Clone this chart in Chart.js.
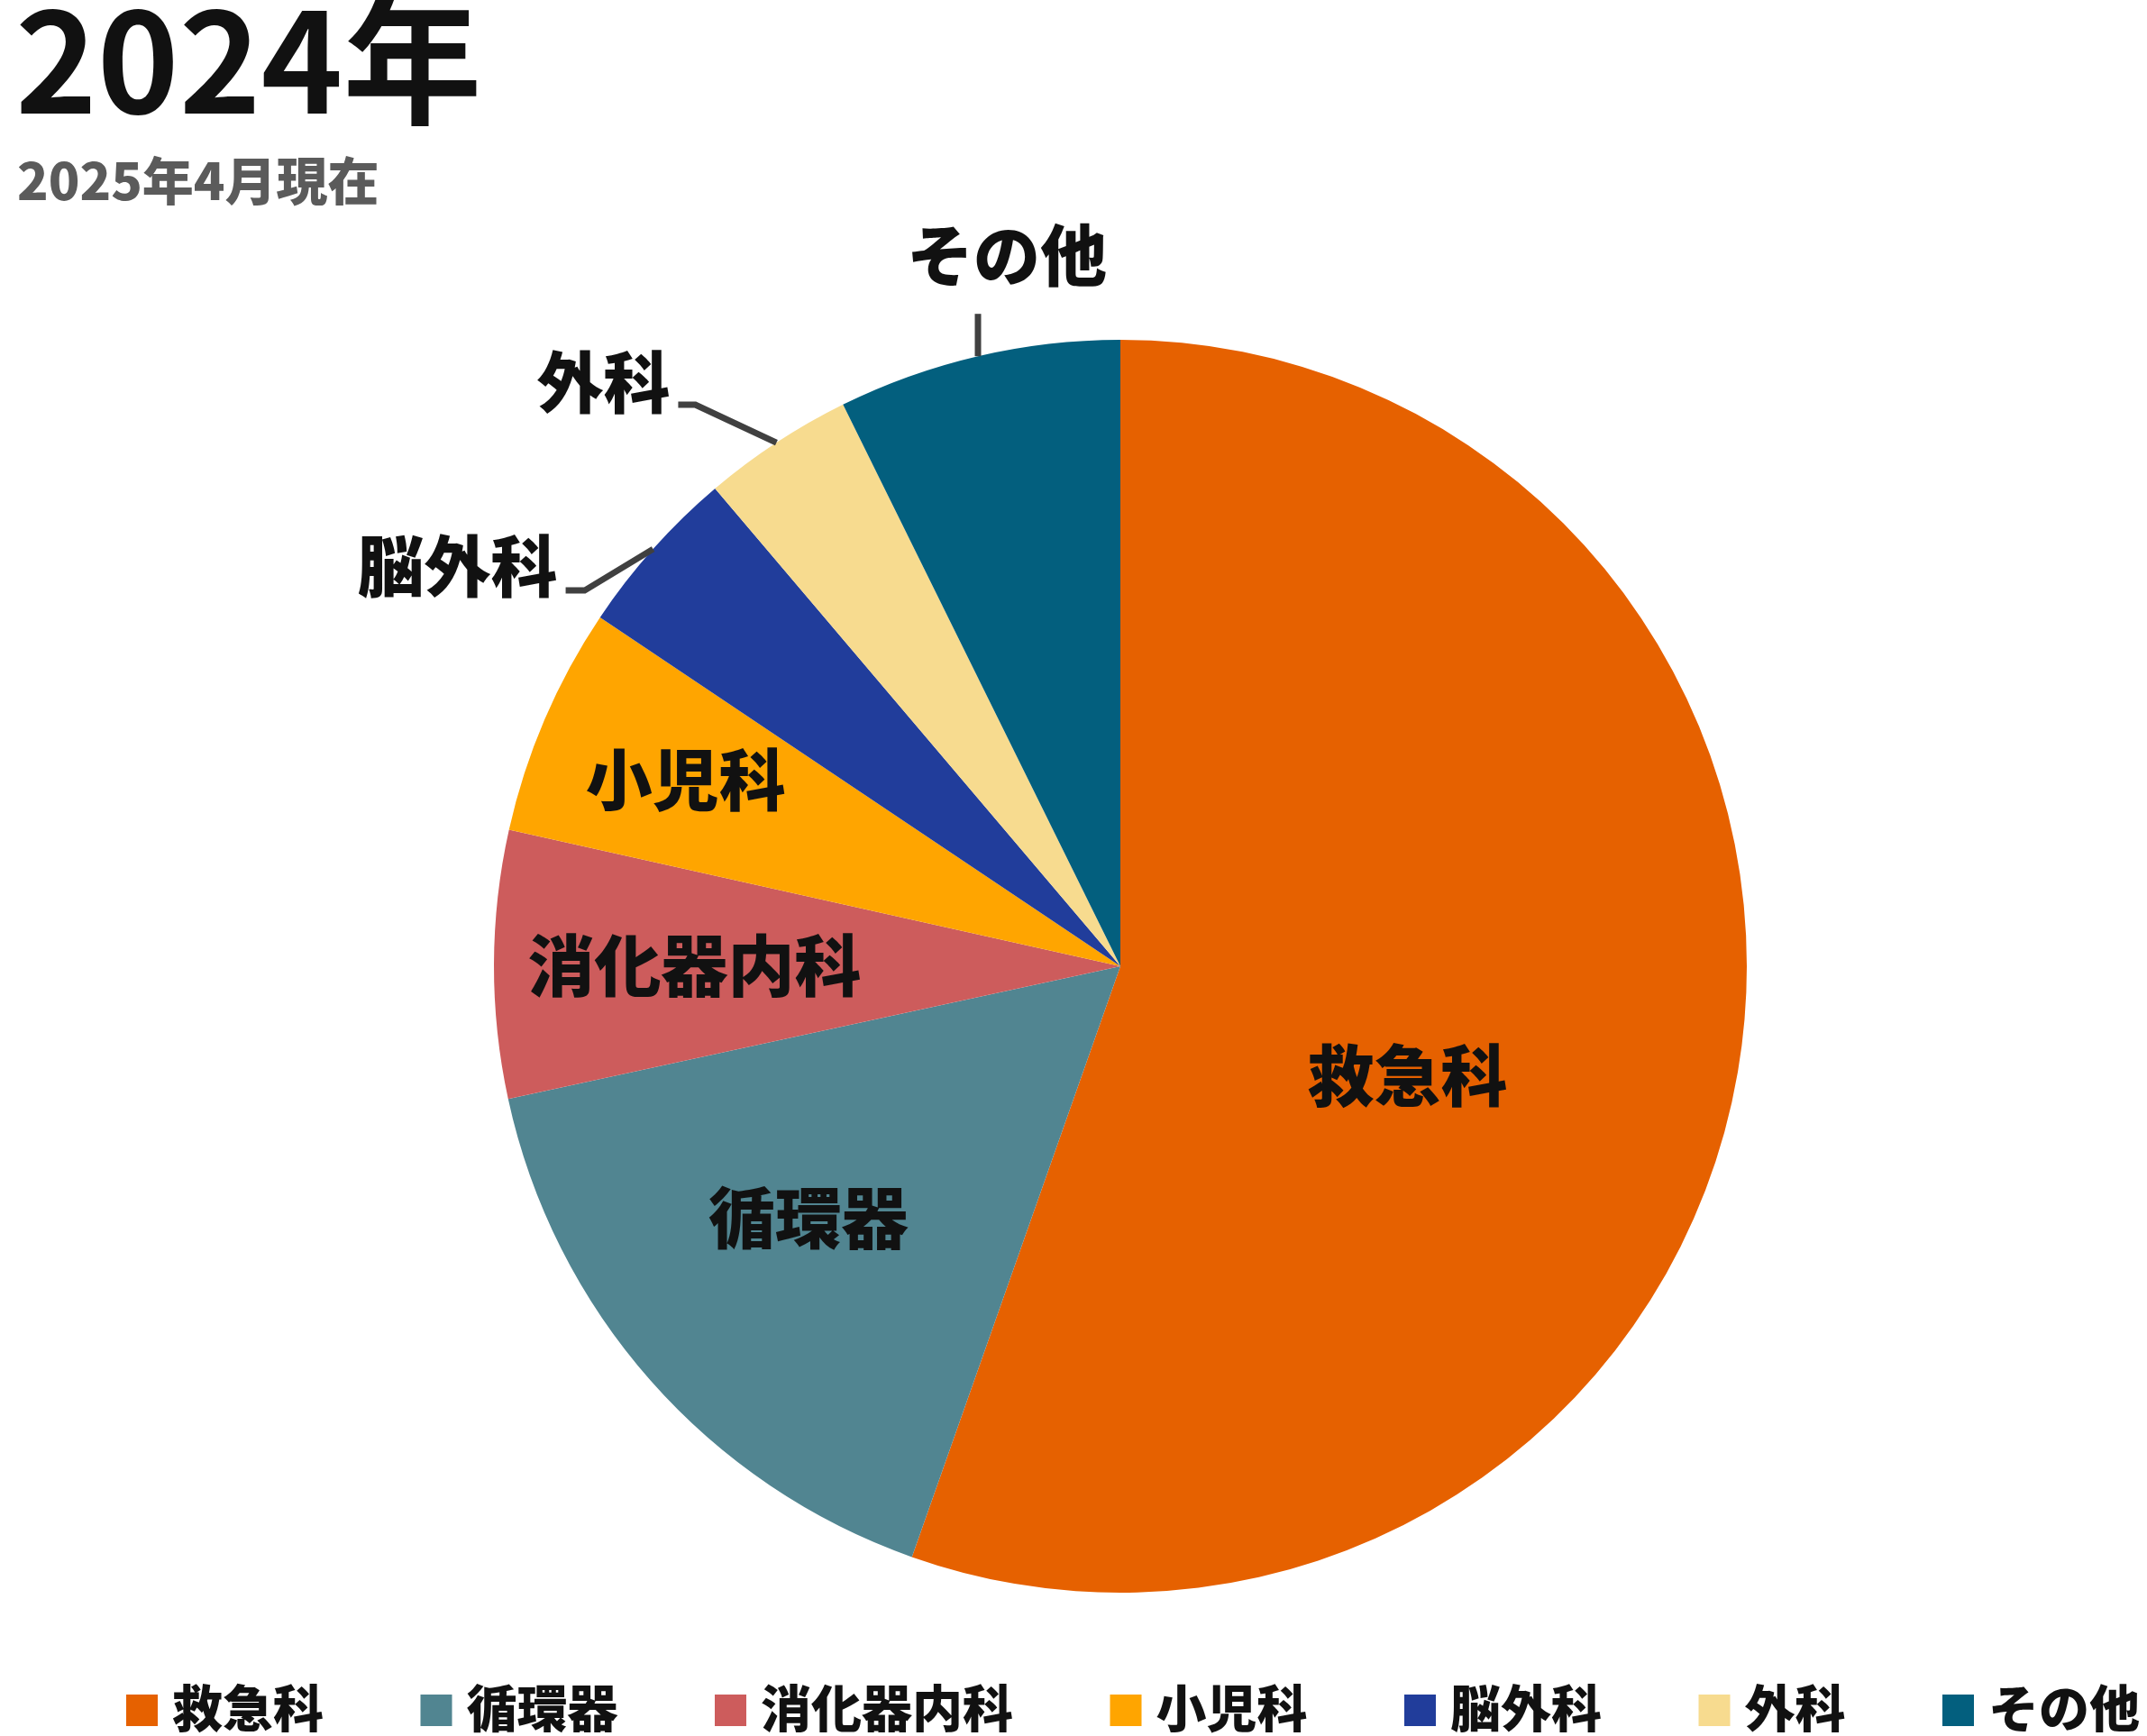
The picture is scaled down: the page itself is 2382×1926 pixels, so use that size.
<!DOCTYPE html>
<html lang="ja">
<head>
<meta charset="utf-8">
<title>2024年 診療科別</title>
<script src="https://cdn.jsdelivr.net/npm/chart.js@4.4.1/dist/chart.umd.min.js"></script>
<style>
    html, body { margin: 0; padding: 0; background: #fff; }
    #wrap { width: 2382px; height: 1926px; }
</style>
</head>
<body>
<div id="wrap"><canvas id="deptChart" width="2382" height="1926"></canvas></div>
<script>
const departments = ['救急科', '循環器', '消化器内科', '小児科', '脳外科', '外科', 'その他'];
const shares = [55.4, 16.2, 6.9, 5.9, 4.4, 3.9, 7.3];
const sliceColors = ['#E66100', '#518591', '#CD5C5C', '#FFA500', '#213D9B', '#F7DB8F', '#035F7E'];
const titleText = '2024年';
const subtitleText = '2025年4月現在';

const FONT = '"Noto Sans CJK JP", "Noto Sans", sans-serif';
const WEIGHT = 900;
const LABEL_SIZE = 74;
const INK_MID = 0.38; // baseline offset to the middle of CJK glyphs

// label placement: inside labels by radius fraction, outside ones with leader lines
const insideLabels = {
    0: { r: 0.49, da: 11 },
    1: { r: 0.64, da: 2.5 },
    2: { r: 0.68, da: 0 },
    3: { r: 0.755, da: 0 }
};
const outsideLabels = {
    4: { elbow: [-76, 46], tail: -21, text: [-9, -27], align: 'right' },
    5: { elbow: [-90, -42], tail: -19, text: [-9, -25], align: 'right' },
    6: { elbow: [0, -47], tail: 0, text: [32, -65], align: 'center' }
};

const headerText = {
    id: 'headerText',
    afterDraw(chart) {
        const { ctx } = chart;
        ctx.save();
        ctx.textAlign = 'left';
        ctx.textBaseline = 'alphabetic';
        ctx.fillStyle = '#111111';
        ctx.font = `bold 154px ${FONT}`;
        ctx.fillText(titleText, 17, 126);
        ctx.fillStyle = '#5b5b5b';
        ctx.font = `${WEIGHT} 57px ${FONT}`;
        ctx.fillText(subtitleText, 19, 222);
        ctx.restore();
    }
};

const sliceLabels = {
    id: 'sliceLabels',
    afterDatasetsDraw(chart) {
        const { ctx } = chart;
        const meta = chart.getDatasetMeta(0);
        ctx.save();
        ctx.font = `${WEIGHT} ${LABEL_SIZE}px ${FONT}`;
        ctx.fillStyle = '#111111';
        ctx.textBaseline = 'alphabetic';
        meta.data.forEach((arc, i) => {
            const { x, y, startAngle, endAngle, outerRadius } =
                arc.getProps(['x', 'y', 'startAngle', 'endAngle', 'outerRadius'], true);
            const mid = (startAngle + endAngle) / 2;
            const name = chart.data.labels[i];
            if (insideLabels[i]) {
                const p = insideLabels[i];
                const a = mid + p.da * Math.PI / 180;
                const cx = x + Math.cos(a) * outerRadius * p.r;
                const cy = y + Math.sin(a) * outerRadius * p.r;
                ctx.textAlign = 'center';
                ctx.fillText(name, cx, cy + LABEL_SIZE * INK_MID);
            } else if (outsideLabels[i]) {
                const o = outsideLabels[i];
                const ex = x + Math.cos(mid) * outerRadius;
                const ey = y + Math.sin(mid) * outerRadius;
                const bx = ex + o.elbow[0];
                const by = ey + o.elbow[1];
                const tx = bx + o.tail;
                ctx.strokeStyle = '#404040';
                ctx.lineWidth = 7;
                ctx.beginPath();
                ctx.moveTo(ex, ey);
                ctx.lineTo(bx, by);
                ctx.lineTo(tx, by);
                ctx.stroke();
                ctx.textAlign = o.align;
                ctx.fillText(name, tx + o.text[0], by + o.text[1] + LABEL_SIZE * INK_MID);
            }
        });
        ctx.restore();
    }
};

// bottom legend spread across the width
const spreadLegend = {
    id: 'spreadLegend',
    afterDraw(chart) {
        const { ctx } = chart;
        const size = 56, box = 35, gap = 16;
        const left = 140, right = 2374, boxTop = 1880, textMid = 1895;
        ctx.save();
        ctx.font = `${WEIGHT} ${size}px ${FONT}`;
        const colors = chart.data.datasets[0].backgroundColor;
        const widths = chart.data.labels.map(t => box + gap + ctx.measureText(t).width);
        const total = widths.reduce((s, w) => s + w, 0);
        const space = (right - left - total) / (widths.length - 1);
        let xPos = left;
        chart.data.labels.forEach((t, i) => {
            ctx.fillStyle = colors[i];
            ctx.fillRect(xPos, boxTop, box, box);
            ctx.fillStyle = '#111111';
            ctx.textAlign = 'left';
            ctx.textBaseline = 'alphabetic';
            ctx.fillText(t, xPos + box + gap, textMid + size * INK_MID);
            xPos += widths[i] + space;
        });
        ctx.restore();
    }
};

new Chart(document.getElementById('deptChart'), {
    type: 'pie',
    data: {
        labels: departments,
        datasets: [{
            data: shares,
            backgroundColor: sliceColors,
            borderWidth: 0
        }]
    },
    options: {
        responsive: false,
        devicePixelRatio: 1,
        animation: false,
        layout: { padding: { left: 104, right: 0, top: 377, bottom: 159 } },
        plugins: {
            legend: { display: false },
            title: { display: false },
            tooltip: { enabled: false }
        }
    },
    plugins: [sliceLabels, headerText, spreadLegend]
});
</script>
</body>
</html>
